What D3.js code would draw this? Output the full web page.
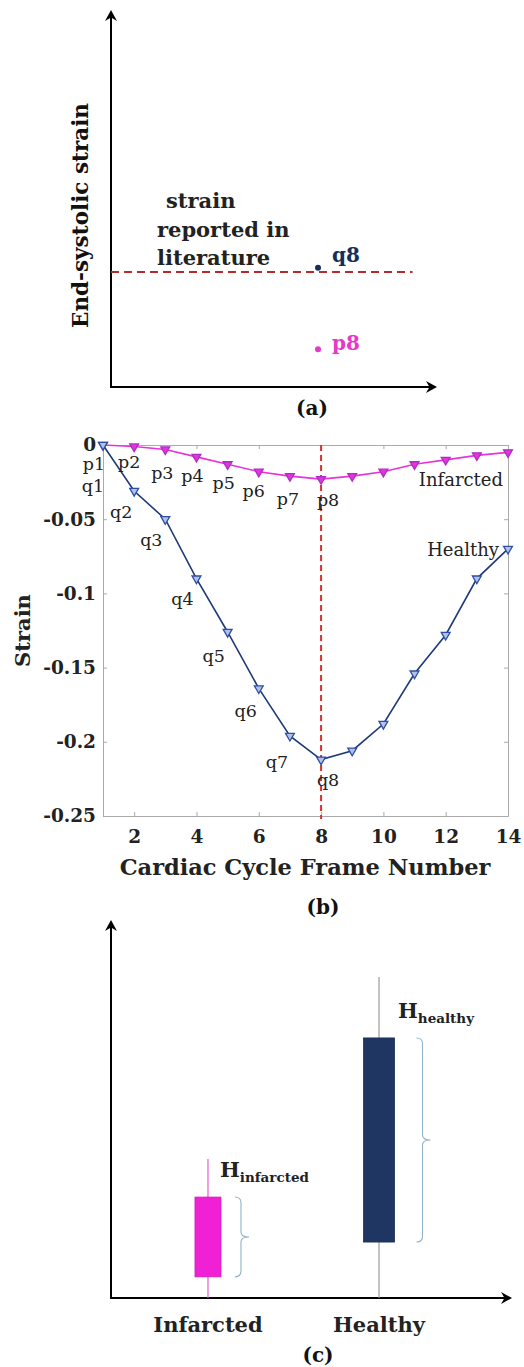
<!DOCTYPE html>
<html>
<head>
<meta charset="utf-8">
<script src="https://cdn.jsdelivr.net/npm/d3@7"></script>
<style>
  html, body { margin: 0; padding: 0; background: #fff; }
  svg { display: block; }
  text { font-family: "DejaVu Serif", "Liberation Serif", serif; }
</style>
</head>
<body>
<svg id="fig" width="524" height="1367"></svg>
<script>
// ---------- data ----------
// (a) schematic: end-systolic strain level (normalised units)
const literatureStrain = 0.305;
const endSystolicPoints = [
  { name: "q8", value: 0.316, group: "healthy" },
  { name: "p8", value: 0.10, group: "infarcted" }
];
const endSystolicFrame = 0.635;

// (b) strain over the cardiac cycle
const frames = [1, 2, 3, 4, 5, 6, 7, 8, 9, 10, 11, 12, 13, 14];
const healthyStrain = [0, -0.031, -0.050, -0.090, -0.126, -0.164, -0.196, -0.212, -0.206, -0.188, -0.154, -0.128, -0.090, -0.070];
const infarctedStrain = [0, -0.001, -0.003, -0.008, -0.013, -0.018, -0.021, -0.023, -0.021, -0.018, -0.013, -0.010, -0.007, -0.005];
const xTicks = [2, 4, 6, 8, 10, 12, 14];
const yTicks = [0, -0.05, -0.1, -0.15, -0.2, -0.25];
const yTickLabels = ["0", "-0.05", "-0.1", "-0.15", "-0.2", "-0.25"];
const endSystoleFrame = 8;
const labelledFrames = 8;

// (c) schematic strain ranges (normalised units)
const groups = ["Infarcted", "Healthy"];
const boxLow = [0.056, 0.148];
const boxHigh = [0.267, 0.688];
const whiskerLow = [0, 0];
const whiskerHigh = [0.368, 0.849];
const rangeSubscripts = ["infarcted", "healthy"];

// ---------- styling ----------
const navy = "#1f3a78";
const magenta = "#e832dc";
const boxNavy = "#1f3662";
const boxMagenta = "#f020d4";
const redDash = "#d8322a";
const darkRed = "#b52a2a";
const braceColor = "#8fb2c8";

// label offsets (dx, dy) from each marked point in (b)
const pLabelOffset = [[-9, 25], [-5, 22], [-3, 30], [-4, 25], [-4, 25], [-5, 25], [-2, 29], [7, 27]];
const qLabelOffset = [[-10, 47], [-13, 27], [-14, 27], [-14, 26], [-14, 30], [-13, 29], [-13, 32], [7, 26]];

const svg = d3.select("#fig");
svg.append("rect").attr("width", 524).attr("height", 1367).attr("fill", "#fff");

// filled stealth arrowhead pointing in direction (ux, uy) with tip at (x, y)
function arrowHead(g, x, y, ux, uy) {
  const L = 11, W = 6, N = 3.5;
  const px = -uy, py = ux;
  const bx = x - ux * L, by = y - uy * L;
  const nx = x - ux * (L - N), ny = y - uy * (L - N);
  g.append("path")
    .attr("d", `M${x},${y} L${bx + px * W},${by + py * W} L${nx},${ny} L${bx - px * W},${by - py * W} Z`)
    .attr("fill", "#000");
}

// ---------- (a) ----------
{
  const g = svg.append("g");
  const x = d3.scaleLinear().domain([0, 1]).range([111, 437]);
  const y = d3.scaleLinear().domain([0, 1]).range([387, 10]);

  g.append("line").attr("x1", x(0)).attr("y1", y(0)).attr("x2", x(0)).attr("y2", y(1) + 4)
    .attr("stroke", "#000").attr("stroke-width", 2);
  g.append("line").attr("x1", x(0) - 1).attr("y1", y(0)).attr("x2", x(1) - 4).attr("y2", y(0))
    .attr("stroke", "#000").attr("stroke-width", 2);
  arrowHead(g, x(0), y(1), 0, -1);
  arrowHead(g, x(1), y(0), 1, 0);

  g.append("line").attr("x1", x(0)).attr("x2", x(0.925))
    .attr("y1", y(literatureStrain)).attr("y2", y(literatureStrain))
    .attr("stroke", darkRed).attr("stroke-width", 2).attr("stroke-dasharray", "8,5");

  const lit = g.append("text").attr("font-weight", "bold").attr("font-size", 21).attr("fill", "#222");
  lit.append("tspan").attr("x", 166).attr("y", 208).text("strain");
  lit.append("tspan").attr("x", 157).attr("y", 237).text("reported in");
  lit.append("tspan").attr("x", 157).attr("y", 265).text("literature");

  endSystolicPoints.forEach(d => {
    const c = d.group === "healthy" ? "#142f5e" : "#e838c8";
    g.append("circle").attr("cx", x(endSystolicFrame)).attr("cy", y(d.value)).attr("r", 3).attr("fill", c);
    g.append("text").attr("x", x(endSystolicFrame) + 14).attr("y", y(d.value) - (d.group === "healthy" ? 6 : -1))
      .attr("font-weight", "bold").attr("font-size", 20).attr("fill", c).text(d.name);
  });

  g.append("text").attr("transform", `translate(88,${(y(0) + y(1)) / 2 + 17}) rotate(-90)`)
    .attr("text-anchor", "middle").attr("font-weight", "bold").attr("font-size", 21.5).attr("fill", "#111")
    .text("End-systolic strain");

  g.append("text").attr("x", 312).attr("y", 415).attr("text-anchor", "middle")
    .attr("font-weight", "bold").attr("font-size", 20).attr("fill", "#111").text("(a)");
}

// ---------- (b) ----------
{
  const L = 103, R = 508, T = 445, B = 816;
  const g = svg.append("g");
  const x = d3.scaleLinear().domain([1, 14]).range([L, R]);
  const y = d3.scaleLinear().domain([-0.25, 0]).range([B, T]);
  const axisGray = "#aaaaaa";

  // axes with inward ticks, boxed
  g.append("g").attr("transform", `translate(0,${B})`)
    .call(d3.axisBottom(x).tickValues(xTicks).tickSizeInner(-4).tickSizeOuter(0).tickPadding(14));
  g.append("g").attr("transform", `translate(${L},0)`)
    .call(d3.axisLeft(y).tickValues(yTicks).tickSizeInner(-4).tickSizeOuter(0).tickPadding(7)
      .tickFormat((d, i) => yTickLabels[i]));
  g.append("g").attr("transform", `translate(0,${T})`)
    .call(d3.axisTop(x).tickValues(xTicks).tickSizeInner(-4).tickSizeOuter(0).tickFormat(""));
  g.append("g").attr("transform", `translate(${R},0)`)
    .call(d3.axisRight(y).tickValues(yTicks).tickSizeInner(-4).tickSizeOuter(0).tickFormat(""));
  g.selectAll(".domain, .tick line").attr("stroke", axisGray).attr("stroke-width", 1);
  g.selectAll(".tick text").attr("font-family", "DejaVu Serif").attr("font-weight", "bold")
    .attr("font-size", 18.5).attr("fill", "#222");

  // end-systole marker
  g.append("line").attr("x1", x(endSystoleFrame)).attr("x2", x(endSystoleFrame))
    .attr("y1", T).attr("y2", B + 3)
    .attr("stroke", redDash).attr("stroke-width", 2).attr("stroke-dasharray", "6,4");

  const line = d3.line().x((d, i) => x(frames[i])).y(d => y(d));
  const tri = d3.symbol().type(d3.symbolTriangle).size(34);

  function series(values, color, fill, edge) {
    g.append("path").datum(values).attr("d", line).attr("fill", "none")
      .attr("stroke", color).attr("stroke-width", 1.6);
    g.selectAll(null).data(values).enter().append("path")
      .attr("d", tri)
      .attr("transform", (d, i) => `translate(${x(frames[i])},${y(d)}) rotate(180)`)
      .attr("fill", fill).attr("stroke", edge).attr("stroke-width", 1.3);
  }
  series(infarctedStrain, magenta, magenta, "#a92fc4");
  series(healthyStrain, navy, "#b4c1e6", "#2e4fa6");

  const lab = g.append("g").attr("font-size", 17.5).attr("fill", "#222").attr("text-anchor", "middle");
  for (let i = 0; i < labelledFrames; i++) {
    lab.append("text").attr("x", x(frames[i]) + pLabelOffset[i][0]).attr("y", y(infarctedStrain[i]) + pLabelOffset[i][1])
      .text("p" + frames[i]);
    lab.append("text").attr("x", x(frames[i]) + qLabelOffset[i][0]).attr("y", y(healthyStrain[i]) + qLabelOffset[i][1])
      .text("q" + frames[i]);
  }
  const last = frames.length - 1;
  g.append("text").attr("x", x(frames[last]) - 5).attr("y", y(infarctedStrain[last]) + 34)
    .attr("text-anchor", "end").attr("font-size", 18).attr("fill", "#222").text("Infarcted");
  g.append("text").attr("x", x(frames[last]) - 9).attr("y", y(healthyStrain[last]) + 7)
    .attr("text-anchor", "end").attr("font-size", 18).attr("fill", "#222").text("Healthy");

  g.append("text").attr("transform", `translate(30,${(T + B) / 2}) rotate(-90)`)
    .attr("text-anchor", "middle").attr("font-weight", "bold").attr("font-size", 21).attr("fill", "#222")
    .text("Strain");
  g.append("text").attr("x", 305).attr("y", 875).attr("text-anchor", "middle")
    .attr("font-weight", "bold").attr("font-size", 22.5).attr("fill", "#222")
    .text("Cardiac Cycle Frame Number");
  g.append("text").attr("x", 323).attr("y", 914).attr("text-anchor", "middle")
    .attr("font-weight", "bold").attr("font-size", 20).attr("fill", "#111").text("(b)");
}

// ---------- (c) ----------
{
  const g = svg.append("g");
  const x = d3.scalePoint().domain(groups).range([111, 476]).padding(0.567);
  const y = d3.scaleLinear().domain([0, 1]).range([1298, 920]);
  const boxW = [26, 31];
  const fills = [boxMagenta, boxNavy];
  const whiskerColors = ["#e060d0", "#9a9a9a"];
  const braceDx = [14, 22];

  g.append("line").attr("x1", 111).attr("y1", y(0)).attr("x2", 111).attr("y2", y(1) + 4)
    .attr("stroke", "#000").attr("stroke-width", 2);
  g.append("line").attr("x1", 110).attr("y1", y(0)).attr("x2", 508).attr("y2", y(0))
    .attr("stroke", "#000").attr("stroke-width", 2);
  arrowHead(g, 111, y(1), 0, -1);
  arrowHead(g, 512, y(0), 1, 0);

  groups.forEach((grp, i) => {
    const cx = x(grp);
    g.append("line").attr("x1", cx).attr("x2", cx).attr("y1", y(whiskerLow[i])).attr("y2", y(whiskerHigh[i]))
      .attr("stroke", whiskerColors[i]).attr("stroke-width", 1.2);
    g.append("rect").attr("x", cx - boxW[i] / 2).attr("width", boxW[i])
      .attr("y", y(boxHigh[i])).attr("height", y(boxLow[i]) - y(boxHigh[i]))
      .attr("fill", fills[i]).attr("stroke", d3.color(fills[i]).darker(0.4)).attr("stroke-width", 0.8);

    // curly brace spanning the box
    const bx = cx + boxW[i] / 2 + braceDx[i];
    const y1 = y(boxHigh[i]), y2 = y(boxLow[i]), ym = (y1 + y2) / 2;
    const w = 6, tip = 8;
    g.append("path")
      .attr("d", `M${bx},${y1} Q${bx + w},${y1} ${bx + w},${y1 + 6} L${bx + w},${ym - 5} Q${bx + w},${ym} ${bx + w + tip},${ym}` +
        ` Q${bx + w},${ym} ${bx + w},${ym + 5} L${bx + w},${y2 - 6} Q${bx + w},${y2} ${bx},${y2}`)
      .attr("fill", "none").attr("stroke", braceColor).attr("stroke-width", 1.1);

    g.append("text").attr("x", cx).attr("y", 1332).attr("text-anchor", "middle")
      .attr("font-weight", "bold").attr("font-size", 21).attr("fill", "#222").text(grp);
  });

  const hPos = [[220, 1177], [398, 1018]];
  rangeSubscripts.forEach((s, i) => {
    const t = g.append("text").attr("x", hPos[i][0]).attr("y", hPos[i][1])
      .attr("font-weight", "bold").attr("fill", "#222");
    t.append("tspan").attr("font-size", 21).text("H");
    t.append("tspan").attr("font-size", 13.5).attr("dy", 5).text(s);
  });

  g.append("text").attr("x", 318).attr("y", 1362).attr("text-anchor", "middle")
    .attr("font-weight", "bold").attr("font-size", 20).attr("fill", "#111").text("(c)");
}
</script>
</body>
</html>
